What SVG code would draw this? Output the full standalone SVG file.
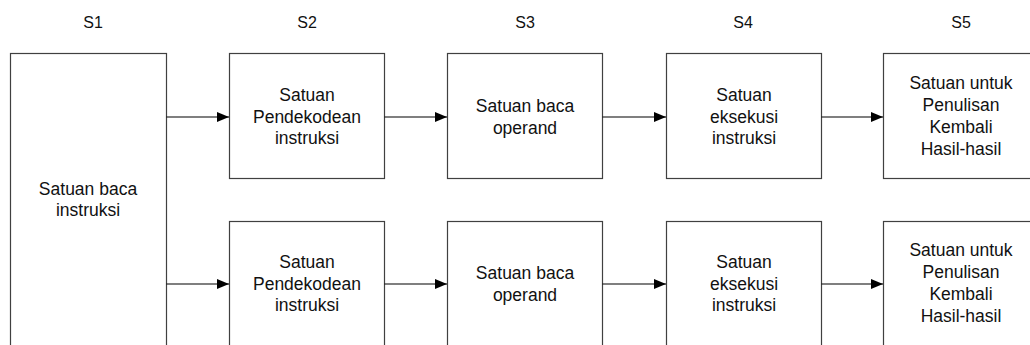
<svg xmlns="http://www.w3.org/2000/svg" width="1030" height="345" viewBox="0 0 1030 345">
<style>
.box{fill:#fff;stroke:#404040;stroke-width:1.2}
.t{font-family:"Liberation Sans",Arial,sans-serif;font-size:17.5px;fill:#111;text-anchor:middle}
.h{font-family:"Liberation Sans",Arial,sans-serif;font-size:16px;fill:#111;text-anchor:middle}
.c{stroke:#000;stroke-width:1.2;fill:none;marker-end:url(#ah)}
</style>
<defs>
<marker id="ah" viewBox="0 0 12 10" refX="12" refY="5" markerWidth="12" markerHeight="10" markerUnits="userSpaceOnUse" orient="auto">
<path d="M0,0 L12,5 L0,10 Z" fill="#000"/>
</marker>
</defs>
<rect width="1030" height="345" fill="#fff"/>
<g id="labels">
<text class="h" x="93" y="28">S1</text>
<text class="h" x="307" y="28">S2</text>
<text class="h" x="525" y="28">S3</text>
<text class="h" x="743" y="28">S4</text>
<text class="h" x="961" y="28">S5</text>
</g>
<g id="s1">
<rect class="box" x="10.5" y="53.5" width="156" height="300"/>
<text class="t" x="88" y="195">Satuan baca</text>
<text class="t" x="88" y="216">instruksi</text>
</g>
<g id="s2a">
<rect class="box" x="229.5" y="53.5" width="155" height="125"/>
<text class="t" x="307" y="101">Satuan</text>
<text class="t" x="307" y="123">Pendekodean</text>
<text class="t" x="307" y="144">instruksi</text>
</g>
<g id="s3a">
<rect class="box" x="447.5" y="53.5" width="155" height="125"/>
<text class="t" x="525" y="112">Satuan baca</text>
<text class="t" x="525" y="134">operand</text>
</g>
<g id="s4a">
<rect class="box" x="666.5" y="53.5" width="155" height="125"/>
<text class="t" x="744" y="101">Satuan</text>
<text class="t" x="744" y="123">eksekusi</text>
<text class="t" x="744" y="144">instruksi</text>
</g>
<g id="s5a">
<rect class="box" x="883.5" y="53.5" width="160" height="125"/>
<text class="t" x="961" y="89">Satuan untuk</text>
<text class="t" x="961" y="111">Penulisan</text>
<text class="t" x="961" y="133">Kembali</text>
<text class="t" x="961" y="155">Hasil-hasil</text>
</g>
<g id="s2b">
<rect class="box" x="229.5" y="221.5" width="155" height="140"/>
<text class="t" x="307" y="268">Satuan</text>
<text class="t" x="307" y="290">Pendekodean</text>
<text class="t" x="307" y="311">instruksi</text>
</g>
<g id="s3b">
<rect class="box" x="447.5" y="221.5" width="155" height="140"/>
<text class="t" x="525" y="279">Satuan baca</text>
<text class="t" x="525" y="301">operand</text>
</g>
<g id="s4b">
<rect class="box" x="666.5" y="221.5" width="155" height="140"/>
<text class="t" x="744" y="268">Satuan</text>
<text class="t" x="744" y="290">eksekusi</text>
<text class="t" x="744" y="311">instruksi</text>
</g>
<g id="s5b">
<rect class="box" x="883.5" y="221.5" width="160" height="140"/>
<text class="t" x="961" y="256">Satuan untuk</text>
<text class="t" x="961" y="278">Penulisan</text>
<text class="t" x="961" y="300">Kembali</text>
<text class="t" x="961" y="322">Hasil-hasil</text>
</g>
<g id="connectors">
<line class="c" x1="166.5" y1="117" x2="229" y2="117"/>
<line class="c" x1="384.5" y1="117" x2="447" y2="117"/>
<line class="c" x1="602.5" y1="117" x2="666" y2="117"/>
<line class="c" x1="821.5" y1="117" x2="883" y2="117"/>
<line class="c" x1="166.5" y1="284" x2="229" y2="284"/>
<line class="c" x1="384.5" y1="284" x2="447" y2="284"/>
<line class="c" x1="602.5" y1="284" x2="666" y2="284"/>
<line class="c" x1="821.5" y1="284" x2="883" y2="284"/>
</g>
</svg>
